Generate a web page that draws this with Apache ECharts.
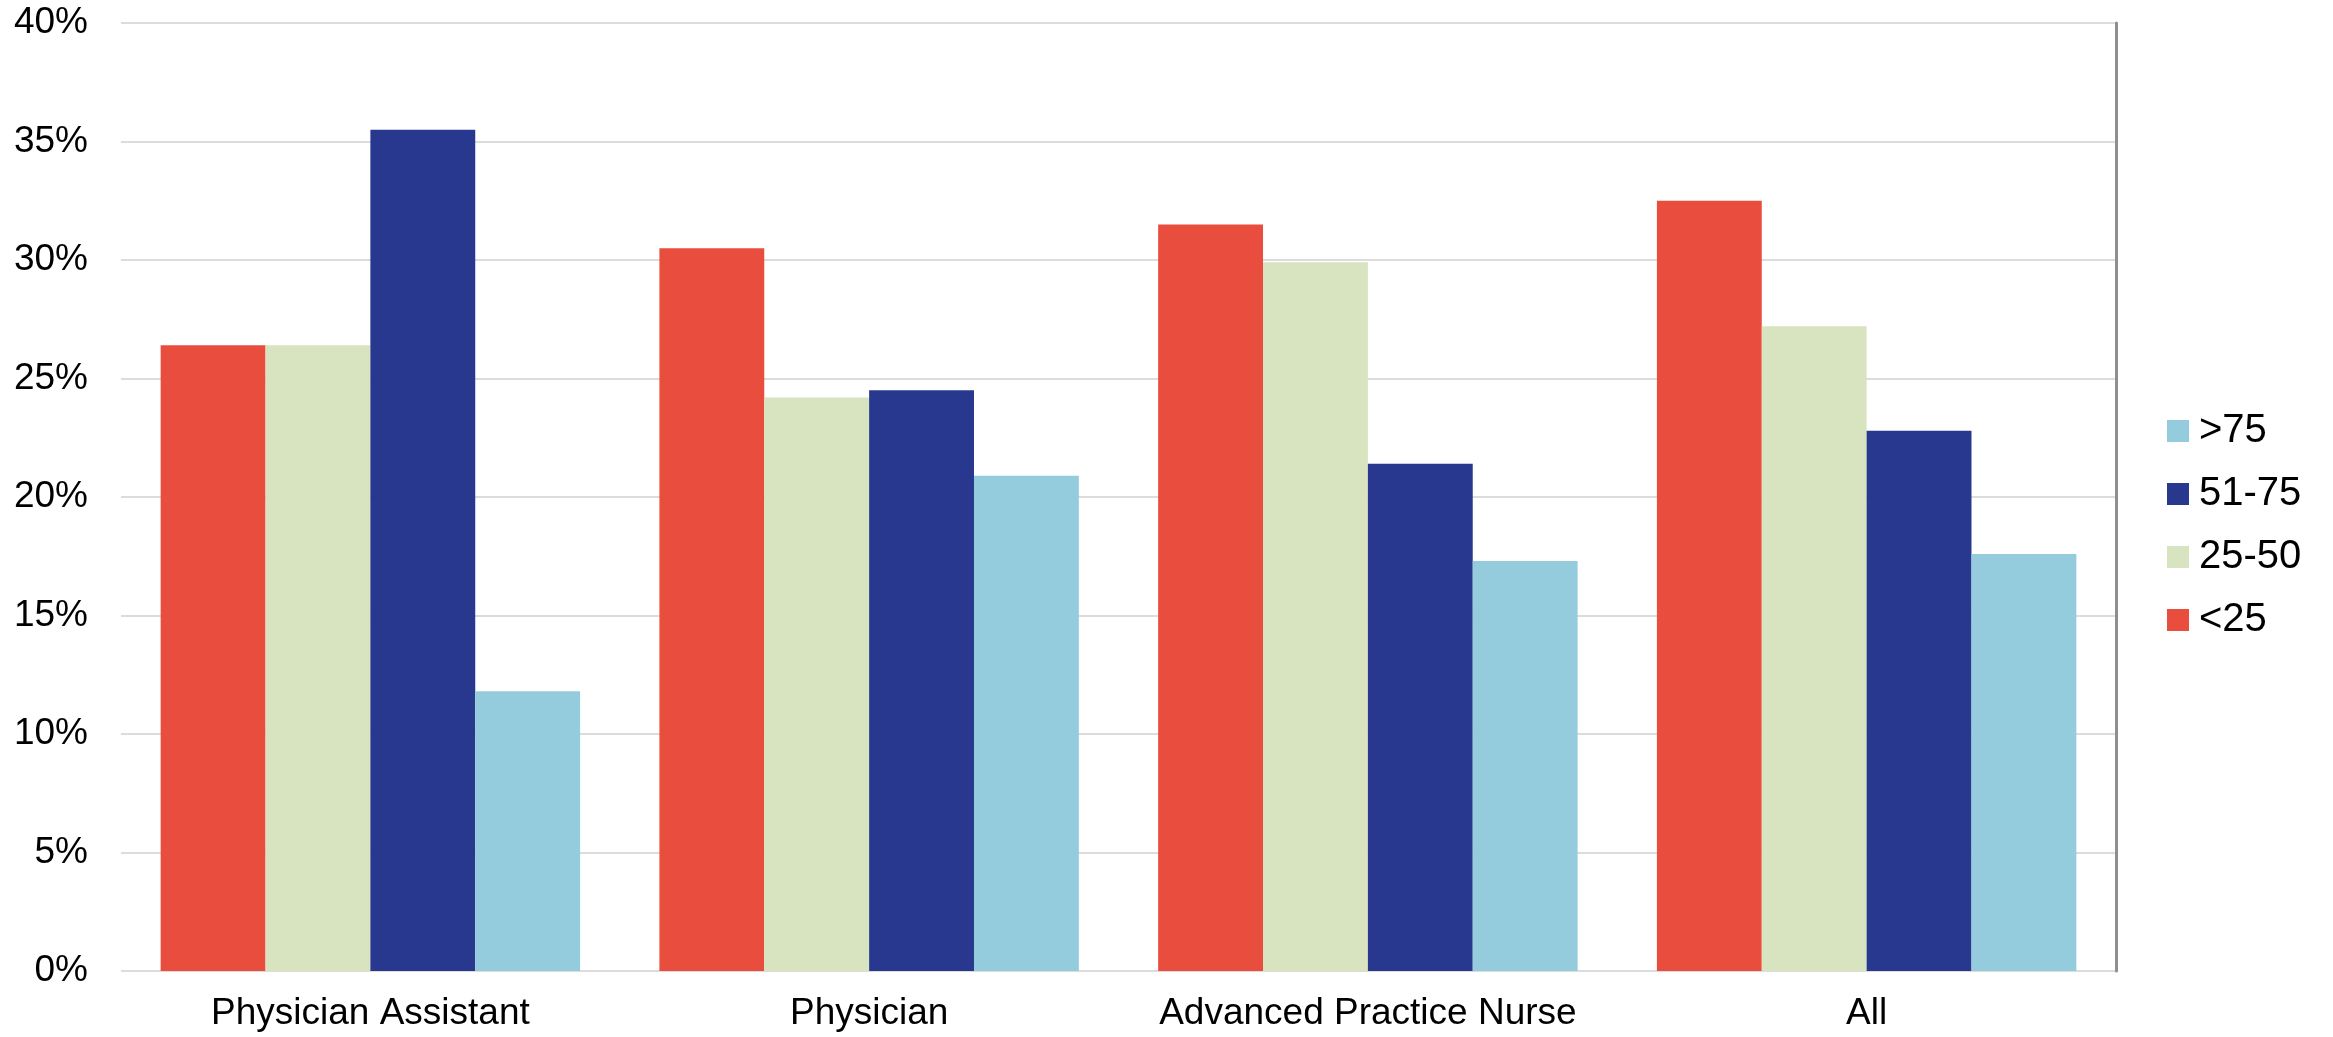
<!DOCTYPE html>
<html>
<head>
<meta charset="utf-8">
<title>Share by group</title>
<script src="https://cdn.jsdelivr.net/npm/echarts@6/dist/echarts.min.js"></script>
<style>
  html, body { margin: 0; padding: 0; background: #ffffff; }
  #chart { width: 2333px; height: 1037px; }
</style>
</head>
<body>
<div id="chart"></div>
<script>
// Provider types along the x axis
const categories = ['Physician Assistant', 'Physician', 'Advanced Practice Nurse', 'All'];

// Percentages for each band, one value per provider type
const under25 = [26.4, 30.5, 31.5, 32.5];
const from25to50 = [26.4, 24.2, 29.9, 27.2];
const from51to75 = [35.5, 24.5, 21.4, 22.8];
const over75 = [11.8, 20.9, 17.3, 17.6];

// Band names, in the order the bars are drawn and the order shown in the legend
const seriesNames = ['<25', '25-50', '51-75', '>75'];
const legendOrder = ['>75', '51-75', '25-50', '<25'];

// Y axis range and step (percent)
const yMin = 0;
const yMax = 40;
const yStep = 5;

const colors = {
  '<25': '#E84D3E',
  '25-50': '#D8E4BF',
  '51-75': '#27388E',
  '>75': '#94CCDD'
};

const seriesData = [under25, from25to50, from51to75, over75];

const FONT = '"Liberation Sans", Arial, Helvetica, sans-serif';

const chart = echarts.init(document.getElementById('chart'), null, { renderer: 'canvas' });

chart.setOption({
  backgroundColor: '#ffffff',
  animation: false,
  textStyle: { fontFamily: FONT },
  grid: { left: 121, right: 217, top: 23, bottom: 66, containLabel: false },
  legend: {
    orient: 'vertical',
    left: 2162,
    top: 406,
    icon: 'rect',
    itemWidth: 22,
    itemHeight: 22,
    itemGap: 23,
    data: legendOrder,
    textStyle: {
      fontFamily: FONT,
      fontSize: 40,
      lineHeight: 40,
      color: '#000000',
      padding: [0, 0, 0, 5]
    }
  },
  xAxis: {
    type: 'category',
    data: categories,
    axisLine: { show: false },
    axisTick: { show: false },
    axisLabel: {
      interval: 0,
      color: '#000000',
      fontFamily: FONT,
      fontSize: 37,
      margin: 24
    }
  },
  yAxis: [
    {
      type: 'value',
      min: yMin,
      max: yMax,
      interval: yStep,
      position: 'left',
      axisLine: { show: false },
      axisTick: { show: false },
      axisLabel: {
        color: '#000000',
        fontFamily: FONT,
        fontSize: 37,
        margin: 33,
        formatter: v => v + '%'
      },
      splitLine: { show: true, lineStyle: { color: '#dcdcdc', width: 2 } }
    },
    {
      type: 'value',
      min: yMin,
      max: yMax,
      interval: yStep,
      position: 'right',
      axisLine: { show: true, lineStyle: { color: '#8f8f8f', width: 3 } },
      axisTick: { show: false },
      axisLabel: { show: false },
      splitLine: { show: false }
    }
  ],
  series: seriesNames.map((name, i) => ({
    name: name,
    type: 'bar',
    yAxisIndex: 0,
    data: seriesData[i],
    barGap: '0%',
    barCategoryGap: '15.9%',
    itemStyle: { color: colors[name] },
    emphasis: { disabled: true }
  }))
});
</script>
</body>
</html>
